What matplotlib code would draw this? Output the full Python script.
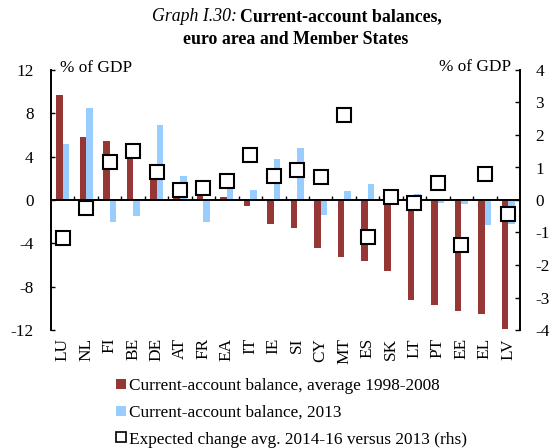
import numpy as np
import matplotlib.pyplot as plt
import matplotlib.transforms as mtransforms
from matplotlib.lines import Line2D

plt.rcParams['font.family'] = ['Liberation Serif', 'DejaVu Serif']
plt.rcParams['font.size'] = 12

countries = ['LU', 'NL', 'FI', 'BE', 'DE', 'AT', 'FR', 'EA', 'IT', 'IE',
             'SI', 'CY', 'MT', 'ES', 'SK', 'LT', 'PT', 'EE', 'EL', 'LV']
# current-account balance, average 1998-2008 (% of GDP)
ca_avg = [9.7, 5.8, 5.45, 4.1, 2.3, 0.4, 0.4, 0.25, -0.6, -2.25,
          -2.6, -4.45, -5.25, -5.6, -6.55, -9.2, -9.7, -10.2, -10.5, -11.9]
# current-account balance 2013 (% of GDP)
ca_2013 = [5.2, 8.45, -2.05, -1.5, 6.9, 2.25, -2.0, 1.2, 0.9, 3.8,
           4.8, -1.35, 0.8, 1.45, 0.1, 0.55, -0.3, -0.35, -2.3, -2.25]
# expected change avg 2014-16 vs 2013 (rhs)
exp_change = [-1.16, -0.24, 1.18, 1.52, 0.87, 0.32, 0.36, 0.59, 1.37, 0.74,
              0.92, 0.71, 2.62, -1.13, 0.08, -0.08, 0.52, -1.38, 0.8, -0.42]

red = '#953735'
blue = '#99ccff'

W, H = 552, 448
fig = plt.figure(figsize=(W / 100, H / 100), dpi=100)
ax = fig.add_axes([51 / W, 1 - 330 / H, 469 / W, 260 / H])
ax2 = ax.twinx()

x = np.arange(len(countries))
bw = 0.28
ax.bar(x - 0.14, ca_avg, width=bw, color=red, zorder=2)
ax.bar(x + 0.14, ca_2013, width=bw, color=blue, zorder=2)
ax2.plot(x, exp_change, linestyle='none', marker='s', markersize=9.5,
         markerfacecolor='white', markeredgecolor='black', markeredgewidth=1.5)

ax.set_xlim(-0.5, len(countries) - 0.5)
ax.set_ylim(-12, 12)
ax.set_yticks([-12, -8, -4, 0, 4, 8, 12])
ax.set_yticklabels(['-12', '-8', '-4', '0', '4', '8', '12'])
ax2.set_ylim(-4, 4)
ax2.set_yticks(range(-4, 5))
ax2.set_yticklabels([str(v) for v in range(-4, 5)])

lw = 1.4
for s in ['top', 'right']:
    ax.spines[s].set_visible(False)
for s in ['top', 'left', 'bottom']:
    ax2.spines[s].set_visible(False)
ax.spines['bottom'].set_position(('data', 0))
ax.spines['bottom'].set_linewidth(lw)
ax.spines['left'].set_linewidth(lw)
ax2.spines['right'].set_linewidth(lw)

ax.set_xticks(x[:-1] + 0.5)
ax.set_xticklabels([])
ax.tick_params(axis='x', direction='in', length=3, width=1)
ax.tick_params(axis='y', direction='in', length=3, width=1, pad=12.5, labelsize=12.4)
ax2.tick_params(axis='y', direction='in', length=3.6, width=1, pad=11, labelsize=12.4)

# category labels below the plot
trans = mtransforms.blended_transform_factory(ax.transData, ax.transAxes)
for xi, c in zip(x, countries):
    ax.text(xi, -8 / 260, c, transform=trans, rotation=90, ha='center', va='top',
            fontsize=12.4)

fig.text(60 / W, 1 - 68 / H, '% of GDP', ha='left', va='center', fontsize=12.4)
fig.text(511 / W, 1 - 67 / H, '% of GDP', ha='right', va='center', fontsize=12.4)

# title
fig.text(237 / W, 1 - 21 / H, 'Graph I.30:', ha='right', va='baseline',
         fontsize=12.8, style='italic')
fig.text(240 / W, 1 - 21 / H, 'Current-account balances,', ha='left',
         va='baseline', fontsize=12.8, weight='bold')
fig.text(296 / W, 1 - 44 / H, 'euro area and Member States', ha='center',
         va='baseline', fontsize=12.8, weight='bold')

handles = [
    Line2D([], [], linestyle='none', marker='s', markersize=7.5,
           markerfacecolor=red, markeredgecolor=red, markeredgewidth=0),
    Line2D([], [], linestyle='none', marker='s', markersize=7.5,
           markerfacecolor=blue, markeredgecolor=blue, markeredgewidth=0),
    Line2D([], [], linestyle='none', marker='s', markersize=6.5,
           markerfacecolor='white', markeredgecolor='black', markeredgewidth=1.2),
]
labels = ['Current-account balance, average 1998-2008',
          'Current-account balance, 2013',
          'Expected change avg. 2014-16 versus 2013 (rhs)']
fig.legend(handles, labels, loc='upper left',
           bbox_to_anchor=(115 / W, 1 - 378 / H), frameon=False,
           handlelength=0.7, handletextpad=0.1, labelspacing=0.62,
           borderpad=0, borderaxespad=0, fontsize=12.4)

fig.savefig('out.png', dpi=100)
